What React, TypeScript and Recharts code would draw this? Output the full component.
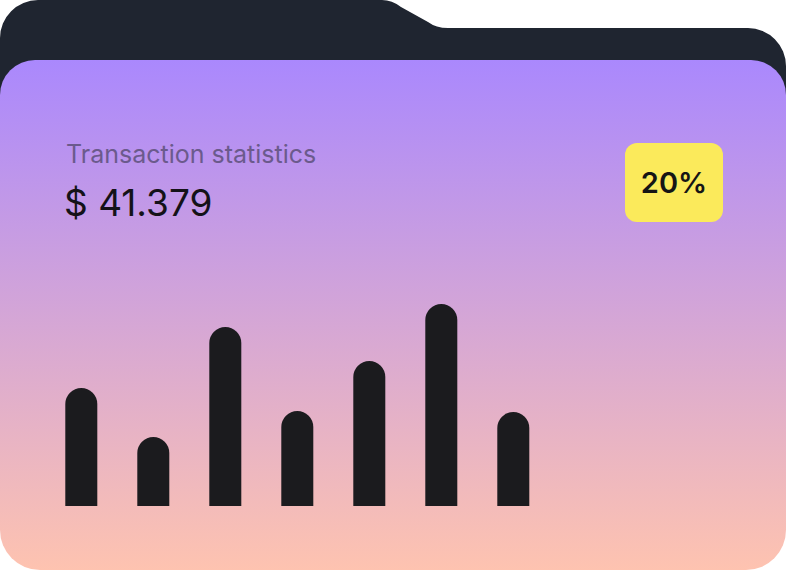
import React from "react";
import { Bar, BarChart, XAxis, YAxis } from "recharts";

// Weekly transaction volumes read from the card
const DAYS = ["Mon", "Tue", "Wed", "Thu", "Fri", "Sat", "Sun"];
const VOLUMES = [118, 69, 179, 95, 145, 202, 94];
const TITLE = "Transaction statistics";
const TOTAL = "$ 41.379";
const CHANGE = "20%";

const chartData = DAYS.map((day, i) => ({ day, value: VOLUMES[i] }));

const W = 786;
const H = 570;

function Folder() {
  return (
    <svg width={W} height={H} style={{ position: "absolute", left: 0, top: 0 }}>
      <defs>
        <linearGradient id="cardFill" x1="0" y1="0" x2="0" y2="1">
          <stop offset="0%" stopColor="#aa88fd" />
          <stop offset="100%" stopColor="#fec3b0" />
        </linearGradient>
      </defs>
      {/* back tab */}
      <path
        d="M0,38 A38,38 0 0 1 38,0 L382,0 Q392,0 401,7 L428,22 Q436,28 448,28 L748,28 A38,38 0 0 1 786,66 L786,200 L0,200 Z"
        fill="#1f2530"
      />
      {/* front card */}
      <path
        d="M0,95 A35,35 0 0 1 35,60 L751,60 A35,35 0 0 1 786,95 L786,530 A40,40 0 0 1 746,570 L40,570 A40,40 0 0 1 0,530 Z"
        fill="url(#cardFill)"
      />
    </svg>
  );
}

export default function App() {
  return (
    <div
      style={{
        position: "absolute",
        left: 0,
        top: 0,
        width: W,
        height: H,
        fontFamily: "Inter, 'Noto Sans', sans-serif",
      }}
    >
      <Folder />
      <div
        style={{
          position: "absolute",
          left: 66,
          top: 138,
          fontSize: 25,
          lineHeight: "32px",
          color: "#6b5a8c",
          whiteSpace: "nowrap",
        }}
      >
        {TITLE}
      </div>
      <div
        style={{
          position: "absolute",
          left: 64,
          top: 180,
          fontSize: 37,
          lineHeight: "46px",
          color: "#141218",
          whiteSpace: "nowrap",
        }}
      >
        {TOTAL}
      </div>
      <div
        style={{
          position: "absolute",
          left: 625,
          top: 143,
          width: 98,
          height: 79,
          borderRadius: 12,
          background: "#fbea5b",
          display: "flex",
          alignItems: "center",
          justifyContent: "center",
          fontSize: 29,
          fontWeight: 600,
          color: "#151515",
        }}
      >
        {CHANGE}
      </div>
      <div style={{ position: "absolute", left: 0, top: 0 }}>
        <BarChart
          width={W}
          height={H}
          data={chartData}
          margin={{ top: 304, right: 236.7, bottom: 64, left: 45.3 }}
        >
          <XAxis dataKey="day" hide />
          <YAxis hide domain={[0, 202]} />
          <Bar
            dataKey="value"
            fill="#1b1b1e"
            barSize={32}
            radius={[16, 16, 0, 0]}
            isAnimationActive={false}
          />
        </BarChart>
      </div>
    </div>
  );
}
